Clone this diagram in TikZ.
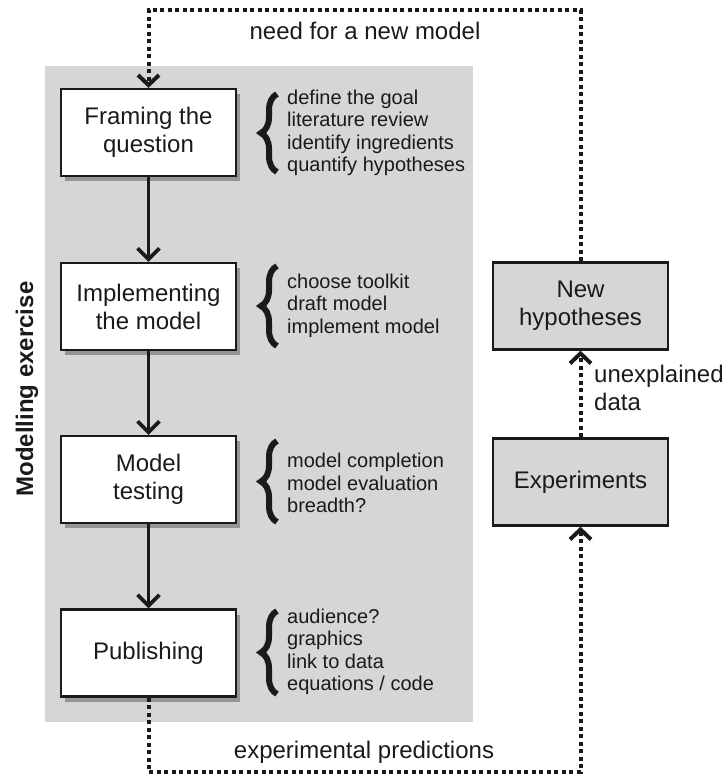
\documentclass[tikz,border=0pt]{standalone}
\usepackage{fontspec}
\setmainfont{Liberation Sans}
\usetikzlibrary{arrows.meta,shadows,decorations.pathreplacing}
\definecolor{panel}{HTML}{D6D6D6}
\definecolor{ink}{HTML}{1A1A1A}
\begin{document}
\begin{tikzpicture}[x=1pt,y=-1pt,
  stepbox/.style={draw=ink, line width=2.4pt, fill=white, minimum width=175pt, minimum height=87pt,
    align=center, font=\fontsize{24}{28}\selectfont, text=ink, inner sep=0pt,
    drop shadow={shadow xshift=4pt, shadow yshift=-5pt, fill=black, opacity=0.3}},
  sidebox/.style={draw=ink, line width=2.4pt, fill=panel, minimum width=175pt, minimum height=87pt,
    align=center, font=\fontsize{24}{28}\selectfont, text=ink, inner sep=0pt},
  listtext/.style={anchor=west, align=left, font=\fontsize{20}{22.5}\selectfont, text=ink, inner sep=0pt},
  lbl/.style={font=\fontsize{24}{28}\selectfont, text=ink, inner sep=0pt},
  bracestyle/.style={draw=ink, line width=6pt, decorate, decoration={brace, amplitude=16pt}},
  solidarrow/.style={draw=ink, line width=3.6pt, -{Straight Barb[length=11pt,width=22pt]}},
  dotline/.style={draw=ink, line width=4pt, dash pattern=on 4pt off 3.5pt},
  dotarrow/.style={dotline, -{Straight Barb[length=10pt,width=21pt]}}
]
\useasboundingbox (0,0) rectangle (727,775);
% panel
\fill[panel] (45,66) rectangle (473,722);
\node[font=\bfseries\fontsize{24}{28}\selectfont, text=ink, rotate=90, inner sep=0pt] (ttl) at (27,389) {Modelling exercise};

% main boxes
\node[stepbox] (frame) at (148.5,132.5) {Framing the\\question};
\node[stepbox] (impl)  at (148.5,306.5) {Implementing\\the model};
\node[stepbox] (test)  at (148.5,479.5) {Model\\testing};
\node[stepbox] (pub)   at (148.5,653)   {Publishing};

% lists
\node[listtext] (l1) at (287,133) {define the goal\\literature review\\identify ingredients\\quantify hypotheses};
\node[listtext] (l2) at (287,305.5) {choose toolkit\\draft model\\implement model};
\node[listtext] (l3) at (287,483) {model completion\\model evaluation\\breadth?};
\node[listtext] (l4) at (287,652) {audience?\\graphics\\link to data\\equations / code};

\draw[bracestyle] (277,172) -- (277,94);
\draw[bracestyle] (277,346) -- (277,266);
\draw[bracestyle] (277,522) -- (277,441);
\draw[bracestyle] (277,694) -- (277,611);

% solid arrows
\draw[solidarrow] (frame.south) -- (impl.north);
\draw[solidarrow] (impl.south) -- (test.north);
\draw[solidarrow] (test.south) -- (pub.north);

% right boxes
\node[sidebox] (newh) at (580.5,306) {New\\hypotheses};
\node[sidebox] (exp)  at (580.5,482) {Experiments};

% dotted connectors
\coordinate (tl) at (148.5,10);
\coordinate (bl) at (148.5,772);
\draw[dotarrow] (newh.north) |- (tl) -- (frame.north);
\draw[dotarrow] (pub.south) -- (bl) -| (exp.south);
\draw[dotarrow] (exp.north) -- (newh.south);

% labels
\node[lbl] (need) at (365,31) {need for a new model};
\node[lbl] (pred) at (364,752) {experimental predictions};
\node[lbl, anchor=west, align=left] (unex) at (594,388) {unexplained\\data};
\end{tikzpicture}
\end{document}
